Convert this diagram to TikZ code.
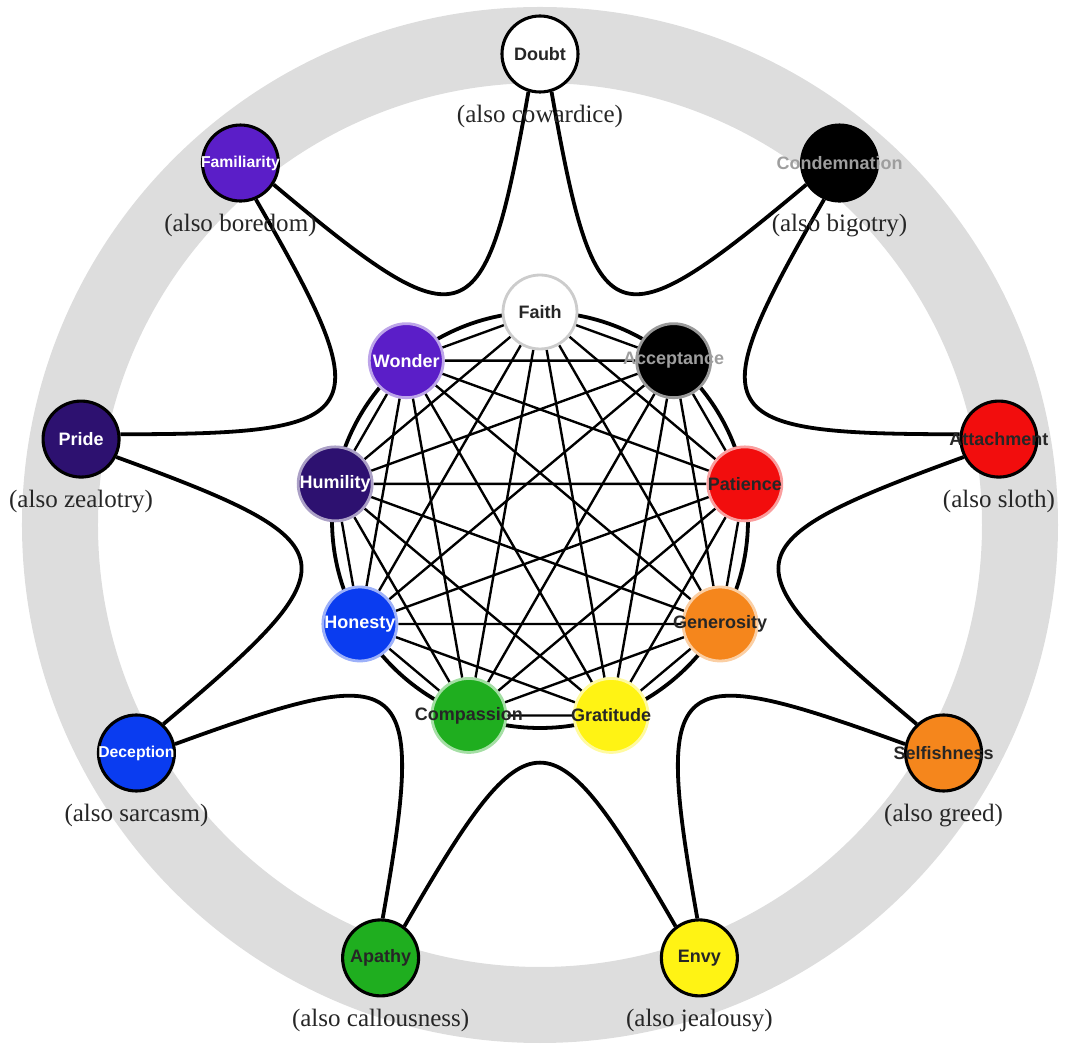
\documentclass[tikz,border=0pt]{standalone}
\usepackage{fontspec}
\setmainfont{Liberation Serif}
\newfontfamily\namefont{Liberation Sans}
\usetikzlibrary{positioning,backgrounds}
\usepackage{xcolor}
\definecolor{Violet}{HTML}{5B1EC8}
\definecolor{Indigo}{HTML}{2D1170}
\definecolor{Royal}{HTML}{0A3CF0}
\definecolor{Leaf}{HTML}{1FAE1F}
\definecolor{Lemon}{HTML}{FFF314}
\definecolor{Amber}{HTML}{F5861C}
\definecolor{Scarlet}{HTML}{F20D0D}
\definecolor{RingGray}{HTML}{DDDDDD}
% long names run over the circle instead of widening it
\newcommand{\overrun}[1]{\makebox[0pt]{#1}}

\begin{document}
\begin{tikzpicture}[
    virtue/.style={circle,fill=#1,draw=#1!40,line width=2pt,minimum size=1.85cm,inner sep=0pt,
                   text=black!85,font=\namefont\fontsize{12.8}{14}\selectfont\bfseries},
    vice/.style={circle,fill=#1,draw=black,line width=2.2pt,minimum size=1.9cm,inner sep=0pt,
                 text=black!85,font=\namefont\fontsize{12.8}{14}\selectfont\bfseries},
    snug/.style={font=\namefont\fontsize{11.2}{13}\selectfont\bfseries},
    note/.style={inner sep=0pt,text=black!85,font=\fontsize{17.8}{20}\selectfont},
    web/.style={line width=1.7pt},
    star/.style={line width=2.7pt}]
  \useasboundingbox (-13.5,-13.1) rectangle (13.425,13);

  % inner ring of virtues
  \node[virtue=white,draw=black!20] (faith) at (90:5.2) {\overrun{Faith}};
  \node[virtue=black,text=black!38] (acceptance) at (50:5.2) {\overrun{Acceptance}};
  \node[virtue=Scarlet] (patience) at (10:5.2) {\overrun{Patience}};
  \node[virtue=Amber] (generosity) at (-30:5.2) {\overrun{Generosity}};
  \node[virtue=Lemon] (gratitude) at (-70:5.2) {\overrun{Gratitude}};
  \node[virtue=Leaf] (compassion) at (-110:5.2) {\overrun{Compassion}};
  \node[virtue=Royal,text=white] (honesty) at (-150:5.2) {\overrun{Honesty}};
  \node[virtue=Indigo,text=white] (humility) at (170:5.2) {\overrun{Humility}};
  \node[virtue=Violet,text=white] (wonder) at (130:5.2) {\overrun{Wonder}};

  % outer ring of vices
  \node[vice=white] (doubt) at (90:11.65) {\overrun{Doubt}};
  \node[vice=black,text=black!38] (condemnation) at (50:11.65) {\overrun{Condemnation}};
  \node[vice=Scarlet] (attachment) at (10:11.65) {\overrun{Attachment}};
  \node[vice=Amber] (selfishness) at (-30:11.65) {\overrun{Selfishness}};
  \node[vice=Lemon] (envy) at (-70:11.65) {\overrun{Envy}};
  \node[vice=Leaf] (apathy) at (-110:11.65) {\overrun{Apathy}};
  \node[vice=Royal,text=white,snug] (deception) at (-150:11.65) {\overrun{Deception}};
  \node[vice=Indigo,text=white] (pride) at (170:11.65) {\overrun{Pride}};
  \node[vice=Violet,text=white,snug] (familiarity) at (130:11.65) {\overrun{Familiarity}};

  \node[note,below=0.28cm of doubt] (doubtnote) {(also cowardice)};
  \node[note,below=0.28cm of condemnation] (condemnationnote) {(also bigotry)};
  \node[note,below=0.28cm of attachment] (attachmentnote) {(also sloth)};
  \node[note,below=0.28cm of selfishness] (selfishnessnote) {(also greed)};
  \node[note,below=0.28cm of envy] (envynote) {(also jealousy)};
  \node[note,below=0.28cm of apathy] (apathynote) {(also callousness)};
  \node[note,below=0.28cm of deception] (deceptionnote) {(also sarcasm)};
  \node[note,below=0.28cm of pride] (pridenote) {(also zealotry)};
  \node[note,below=0.28cm of familiarity] (familiaritynote) {(also boredom)};

  \begin{scope}[on background layer]
    \draw[RingGray,line width=1.9cm] (0,-0.125) circle (12);
    \draw[star] (0,0) circle (5.2);
    % every virtue joined to every other
    \draw[web] (faith) -- (acceptance) (faith) -- (patience) (faith) -- (generosity) (faith) -- (gratitude)
               (faith) -- (compassion) (faith) -- (honesty) (faith) -- (humility) (faith) -- (wonder);
    \draw[web] (acceptance) -- (patience) (acceptance) -- (generosity) (acceptance) -- (gratitude)
               (acceptance) -- (compassion) (acceptance) -- (honesty) (acceptance) -- (humility)
               (acceptance) -- (wonder);
    \draw[web] (patience) -- (generosity) (patience) -- (gratitude) (patience) -- (compassion)
               (patience) -- (honesty) (patience) -- (humility) (patience) -- (wonder);
    \draw[web] (generosity) -- (gratitude) (generosity) -- (compassion) (generosity) -- (honesty)
               (generosity) -- (humility) (generosity) -- (wonder);
    \draw[web] (gratitude) -- (compassion) (gratitude) -- (honesty) (gratitude) -- (humility)
               (gratitude) -- (wonder);
    \draw[web] (compassion) -- (honesty) (compassion) -- (humility) (compassion) -- (wonder);
    \draw[web] (honesty) -- (humility) (honesty) -- (wonder) (humility) -- (wonder);
    % the star through the vices
    \draw[star] (doubt.287) .. controls +(280:6.3) and +(220:6.3) .. (condemnation.213);
    \draw[star] (condemnation.247) .. controls +(240:6.3) and +(180:6.3) .. (attachment.173);
    \draw[star] (attachment.207) .. controls +(200:6.3) and +(140:6.3) .. (selfishness.133);
    \draw[star] (selfishness.167) .. controls +(160:6.3) and +(100:6.3) .. (envy.93);
    \draw[star] (envy.127) .. controls +(120:6.3) and +(60:6.3) .. (apathy.53);
    \draw[star] (apathy.87) .. controls +(80:6.3) and +(20:6.3) .. (deception.13);
    \draw[star] (deception.47) .. controls +(40:6.3) and +(-20:6.3) .. (pride.-27);
    \draw[star] (pride.7) .. controls +(0:6.3) and +(-60:6.3) .. (familiarity.-67);
    \draw[star] (familiarity.-33) .. controls +(-40:6.3) and +(-100:6.3) .. (doubt.253);
  \end{scope}
\end{tikzpicture}
\end{document}
